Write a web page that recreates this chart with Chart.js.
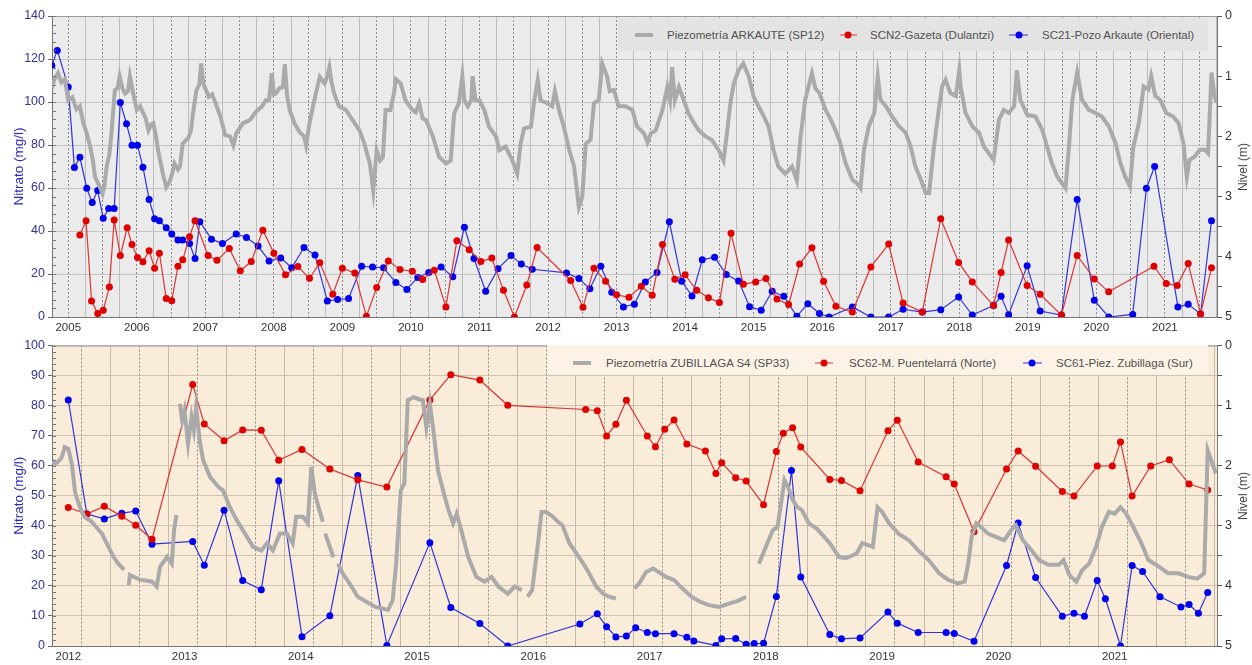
<!DOCTYPE html>
<html>
<head>
<meta charset="utf-8">
<script src="https://cdn.jsdelivr.net/npm/chart.js@4.4.0/dist/chart.umd.min.js"></script>
<style>
  body { margin: 0; background: #fff; font-family: "Liberation Sans", Arial, sans-serif; }
  #wrap { position: relative; width: 1252px; height: 665px; overflow: hidden; }
  canvas { position: absolute; left: 0; }
  .legend { position: absolute; font-size: 11.5px; color: #505050; }
  .legend span { position: absolute; }
  .legend .lt { transform: translateY(-50%); white-space: nowrap; }
  .sw-grey { height: 4px; background: #aaaaaa; transform: translateY(-50%); }
  .sw-line { height: 1px; transform: translateY(-50%); }
  .sw-dot { width: 7px; height: 7px; border-radius: 50%; transform: translate(-50%, -50%); }
  .rtitle { position: absolute; font-size: 12px; color: #444; white-space: nowrap; transform: translate(-50%, -50%) rotate(-90deg); }
</style>
</head>
<body>
<div id="wrap">
  <canvas id="arkaute" width="1252" height="335" style="top:0"></canvas>
  <canvas id="zubillaga" width="1252" height="330" style="top:335px"></canvas>

  <div class="legend" style="left:618px;top:18px;width:590px;height:33px;background:#e3e3e3">
    <span class="sw-grey" style="left:17px;top:17px;width:18px"></span>
    <span class="lt" style="left:49px;top:17px">Piezometría ARKAUTE (SP12)</span>
    <span class="sw-line" style="left:222px;top:17px;width:17px;background:#dd3333"></span>
    <span class="sw-dot" style="left:230px;top:17px;background:#e00000"></span>
    <span class="lt" style="left:252px;top:17px">SCN2-Gazeta (Dulantzi)</span>
    <span class="sw-line" style="left:391px;top:17px;width:19px;background:#3333dd"></span>
    <span class="sw-dot" style="left:401px;top:17px;background:#0000ee"></span>
    <span class="lt" style="left:424px;top:17px">SC21-Pozo Arkaute (Oriental)</span>
  </div>

  <div class="legend" style="left:547px;top:345px;width:661px;height:30px;background:#fcf2e6">
    <span class="sw-grey" style="left:26px;top:18px;width:18px"></span>
    <span class="lt" style="left:59px;top:18px">Piezometría ZUBILLAGA S4 (SP33)</span>
    <span class="sw-line" style="left:268px;top:18px;width:18px;background:#dd3333"></span>
    <span class="sw-dot" style="left:277px;top:18px;background:#e00000"></span>
    <span class="lt" style="left:302px;top:18px">SC62-M. Puentelarrá (Norte)</span>
    <span class="sw-line" style="left:476px;top:18px;width:19px;background:#3333dd"></span>
    <span class="sw-dot" style="left:485px;top:18px;background:#0000ee"></span>
    <span class="lt" style="left:509px;top:18px">SC61-Piez. Zubillaga (Sur)</span>
  </div>

  <div class="rtitle" style="left:1243px;top:167px">Nivel (m)</div>
  <div class="rtitle" style="left:1243px;top:496px">Nivel (m)</div>
</div>

<script>
// ---- Arkaute (top) ----
const arkYears = [2004.76,2004.80,2004.85,2004.90,2004.95,2005.00,2005.06,2005.12,2005.17,2005.22,2005.27,2005.32,2005.36,2005.39,2005.46,2005.50,2005.53,2005.56,2005.60,2005.63,2005.68,2005.72,2005.75,2005.79,2005.83,2005.87,2005.90,2005.95,
  2006.00,2006.05,2006.09,2006.13,2006.17,2006.21,2006.24,2006.28,2006.31,2006.35,2006.38,2006.43,2006.48,2006.52,2006.55,2006.60,2006.63,2006.67,2006.75,2006.79,2006.82,2006.87,2006.91,2006.94,2006.97,
  2007.05,2007.10,2007.15,2007.22,2007.29,2007.36,2007.41,2007.45,2007.55,2007.65,2007.74,2007.83,2007.88,2007.93,2007.97,2008.00,2008.03,2008.08,2008.13,2008.16,2008.19,2008.23,2008.30,2008.37,2008.44,2008.47,2008.52,2008.59,2008.67,2008.74,2008.78,2008.81,2008.84,2008.88,2008.95,
  2009.05,2009.15,2009.25,2009.32,2009.40,2009.45,2009.50,2009.55,2009.59,2009.63,2009.70,2009.75,2009.78,2009.85,2009.92,2010.02,2010.07,2010.12,2010.17,2010.22,2010.32,2010.41,2010.51,2010.58,2010.63,2010.70,2010.75,2010.78,2010.83,2010.88,2010.90,2010.94,
  2011.00,2011.07,2011.14,2011.24,2011.29,2011.38,2011.48,2011.55,2011.60,2011.65,2011.75,2011.80,2011.85,2011.89,2011.99,2012.06,2012.10,2012.16,2012.23,2012.31,2012.38,2012.45,2012.50,2012.55,2012.62,2012.67,2012.74,2012.79,2012.86,2012.90,2012.96,
  2013.03,2013.13,2013.23,2013.30,2013.40,2013.45,2013.50,2013.57,2013.67,2013.74,2013.78,2013.81,2013.85,2013.91,2013.98,2014.05,2014.13,2014.20,2014.30,2014.39,2014.49,2014.56,2014.61,2014.66,2014.71,2014.78,2014.85,2014.93,
  2015.00,2015.07,2015.15,2015.22,2015.29,2015.36,2015.46,2015.56,2015.63,2015.68,2015.75,2015.85,2015.90,2015.96,2016.05,2016.15,2016.25,2016.34,2016.44,2016.51,2016.56,2016.61,2016.68,2016.76,2016.81,2016.85,2016.93,
  2017.02,2017.12,2017.22,2017.29,2017.36,2017.44,2017.51,2017.56,2017.63,2017.70,2017.75,2017.80,2017.87,2017.95,2018.00,2018.02,2018.09,2018.19,2018.29,2018.36,2018.43,2018.50,2018.58,2018.65,2018.72,2018.80,2018.84,2018.89,2018.99,
  2019.11,2019.21,2019.28,2019.35,2019.43,2019.50,2019.55,2019.60,2019.65,2019.72,2019.79,2019.89,2019.99,2020.08,2020.18,2020.28,2020.35,2020.42,2020.49,2020.54,2020.62,2020.69,2020.76,2020.80,2020.86,2020.93,
  2021.02,2021.12,2021.20,2021.27,2021.32,2021.36,2021.44,2021.51,2021.58,2021.63,2021.68,2021.72,2021.75];
const arkLevels = [1.20,1.05,0.95,1.10,1.05,1.40,1.35,1.55,1.50,1.78,1.95,2.17,2.40,2.67,2.84,2.95,2.80,2.50,2.30,1.95,1.23,1.20,1.00,1.20,1.29,1.25,1.00,1.30,
  1.56,1.50,1.60,1.70,1.90,1.80,1.78,2.00,2.23,2.45,2.62,2.84,2.75,2.60,2.45,2.55,2.50,2.12,2.03,1.90,1.62,1.23,1.15,0.79,1.12,
  1.34,1.30,1.45,1.67,1.98,2.00,2.15,1.95,1.78,1.73,1.59,1.50,1.40,1.40,0.95,1.30,1.29,1.20,1.18,0.80,1.30,1.56,1.78,1.92,2.00,2.15,1.78,1.40,1.01,1.12,1.00,0.85,1.10,1.29,1.50,
  1.56,1.73,1.90,2.12,2.45,2.90,2.23,2.40,2.35,1.56,1.56,1.30,1.05,1.12,1.40,1.56,1.60,1.45,1.70,1.73,2.00,2.34,2.45,2.40,1.62,1.45,1.00,1.40,1.50,1.40,1.00,1.40,
  1.40,1.56,1.84,2.00,2.23,2.17,2.40,2.62,2.12,1.87,1.84,1.40,1.06,1.40,1.45,1.50,1.25,1.56,1.84,2.23,2.50,3.17,3.00,2.12,2.06,1.45,1.40,0.79,1.00,1.25,1.23,
  1.50,1.50,1.56,1.84,1.95,2.10,1.95,1.90,1.56,1.18,1.40,0.85,1.40,1.18,1.40,1.62,1.78,1.90,2.00,2.06,2.23,2.40,1.95,1.45,1.12,0.90,0.79,1.01,
  1.34,1.50,1.67,1.84,2.23,2.50,2.62,2.50,2.73,2.06,1.40,0.95,1.20,1.28,1.56,1.78,2.06,2.44,2.72,2.78,2.86,2.22,1.83,1.61,1.00,1.39,1.50,
  1.67,1.83,1.94,2.17,2.50,2.72,2.94,2.94,2.17,1.56,1.17,1.06,1.28,1.33,0.90,1.17,1.61,1.83,1.94,2.17,2.28,2.39,1.72,1.56,1.61,1.50,0.90,1.39,1.64,
  1.67,1.89,2.17,2.44,2.67,2.78,2.86,2.17,1.39,0.94,1.39,1.56,1.61,1.67,1.83,2.11,2.44,2.67,2.83,2.17,1.78,1.17,1.22,1.00,1.33,1.39,
  1.61,1.67,1.78,2.11,2.67,2.39,2.33,2.22,2.22,2.28,0.94,1.30,1.44];

const scn2Years = [2005.17,2005.26,2005.34,2005.43,2005.51,2005.60,2005.67,2005.76,2005.86,2005.93,2006.01,2006.09,2006.18,2006.26,2006.33,2006.43,2006.51,2006.60,2006.67,2006.77,2006.85,
  2007.04,2007.17,2007.35,2007.51,2007.67,2007.84,2008.00,2008.17,2008.35,2008.52,2008.67,2008.86,2009.00,2009.18,2009.35,2009.50,2009.67,2009.84,2010.02,2010.17,2010.34,2010.51,2010.67,2010.85,
  2011.02,2011.18,2011.35,2011.51,2011.69,2011.84,2012.33,2012.51,2012.67,2012.84,2013.00,2013.18,2013.36,2013.52,2013.67,2013.85,2014.00,2014.17,2014.34,2014.50,2014.67,2014.85,
  2015.03,2015.18,2015.34,2015.51,2015.67,2015.85,2016.02,2016.20,2016.44,2016.71,2016.97,2017.18,2017.46,2017.73,2017.99,2018.19,2018.50,2018.61,2018.72,2018.99,
  2019.18,2019.49,2019.72,2019.97,2020.18,2020.84,2021.02,2021.18,2021.34,2021.52,2021.68];
const scn2Values = [38.1,44.8,7.5,1.6,3.1,14.0,45.1,28.6,41.5,33.7,27.7,25.7,30.8,22.7,29.7,8.6,7.6,23.6,26.6,37.3,44.8,
  28.6,26.4,31.9,21.5,25.8,40.4,29.7,19.6,23.5,18.0,25.2,10.6,22.7,20.5,0.3,13.7,26.1,22.1,21.3,17.4,21.8,4.7,35.5,31.3,
  25.8,27.4,12.4,0,14.9,32.3,17.0,4.5,22.7,16.6,10.3,9.2,14.3,10.1,33.7,17.6,19.6,12.4,9.0,6.7,38.9,15.2,
  16.3,17.9,8.4,5.8,24.6,32.2,16.6,5.0,2.3,23.3,33.9,6.5,2.3,45.7,25.4,16.3,5.3,20.7,35.8,14.6,
  10.6,0.9,28.6,17.7,11.7,23.6,15.6,14.6,24.9,1.4,22.9];

const sc21Years = [2004.76,2004.84,2005.00,2005.09,2005.17,2005.27,2005.35,2005.43,2005.51,2005.59,2005.67,2005.76,2005.85,2005.93,2006.01,2006.09,2006.18,2006.26,2006.33,2006.43,2006.51,2006.60,2006.67,2006.77,2006.85,2006.92,
  2007.09,2007.25,2007.45,2007.60,2007.77,2007.93,2008.10,2008.26,2008.44,2008.60,2008.78,2008.93,2009.09,2009.28,2009.44,2009.60,2009.78,2009.94,2010.10,2010.26,2010.44,2010.61,2010.78,2010.92,
  2011.09,2011.27,2011.46,2011.61,2011.77,2012.27,2012.45,2012.61,2012.77,2012.93,2013.10,2013.26,2013.42,2013.59,2013.77,2013.95,2014.10,2014.25,2014.43,2014.60,2014.78,2014.94,
  2015.11,2015.27,2015.44,2015.63,2015.79,2015.96,2016.10,2016.44,2016.71,2016.97,2017.18,2017.46,2017.73,2017.99,2018.19,2018.50,2018.61,2018.72,2018.99,
  2019.18,2019.49,2019.72,2019.97,2020.18,2020.53,2020.73,2020.85,2021.19,2021.34,2021.52,2021.68];
const sc21Values = [117,124,107,69.5,74.3,59.9,53.2,58.8,45.9,50.5,50.5,99.8,89.9,79.9,79.9,69.7,54.7,45.7,44.8,41.5,38.6,35.8,35.8,34.2,27.2,44.3,
  36.2,34.2,38.6,37.0,33.0,26.1,27.5,22.9,32.3,28.8,7.5,8.1,8.6,23.6,23.2,22.9,16.0,12.8,18.4,20.7,23.3,18.7,41.8,27.2,
  12.0,22.4,28.6,24.6,22.2,20.5,17.9,13.1,23.6,11.5,4.7,5.9,16.3,20.7,44.3,16.6,9.8,26.6,27.8,19.8,16.8,4.8,
  3.1,12.0,9.6,0.3,6.2,1.6,0,4.7,0,0,3.6,2.3,3.4,9.3,0.9,5.3,9.6,1.1,23.8,
  2.8,0.9,54.7,7.8,0,1.2,59.9,70.0,4.7,5.9,1.4,44.8];

// ---- Zubillaga (bottom) ----  null = gap in the record
const zubYears = [2011.75,2011.78,2011.83,2011.86,2011.89,2011.92,2011.95,2011.99,2012.03,2012.09,2012.13,2012.18,2012.22,2012.28,2012.32,2012.37,2012.39,
  2012.41,2012.42,2012.51,2012.56,2012.61,2012.65,2012.68,2012.74,2012.78,2012.80,2012.82,2012.835,
  2012.85,2012.87,2012.89,2012.92,2012.95,2012.97,2012.99,2013.02,2013.05,2013.11,2013.18,2013.22,2013.28,2013.34,2013.41,2013.48,2013.55,2013.60,2013.65,2013.71,2013.77,2013.82,2013.85,2013.91,2013.95,2013.98,2014.01,2014.05,2014.08,2014.09,
  2014.10,2014.17,2014.19,
  2014.21,2014.25,2014.31,2014.38,2014.45,2014.53,2014.58,2014.64,2014.68,2014.71,2014.73,2014.75,2014.78,2014.81,2014.86,2014.90,2014.94,2014.97,2015.00,2015.03,2015.07,2015.12,2015.16,2015.20,2015.23,2015.27,2015.33,2015.40,2015.47,2015.53,2015.59,2015.67,2015.73,2015.79,2015.815,
  2015.84,2015.88,2015.93,2015.96,2016.00,2016.06,2016.10,2016.14,2016.20,2016.26,2016.32,2016.37,2016.43,2016.49,2016.54,2016.60,2016.68,
  2016.76,2016.80,2016.86,2016.92,2016.97,2017.03,2017.10,2017.17,2017.25,2017.32,2017.40,2017.49,2017.58,2017.66,2017.72,2017.78,
  2017.83,2017.89,2017.95,2017.99,2018.02,2018.05,2018.08,2018.12,2018.16,2018.20,2018.26,2018.33,2018.44,2018.52,2018.58,2018.67,2018.72,2018.81,2018.85,2018.89,2018.95,
  2019.03,2019.12,2019.20,2019.29,2019.38,2019.46,2019.54,2019.60,2019.63,2019.66,2019.70,2019.74,2019.80,2019.86,2019.94,2020.00,2020.04,2020.10,2020.15,2020.24,2020.32,2020.41,2020.45,2020.50,2020.56,2020.61,2020.67,2020.73,2020.78,2020.84,2020.89,2020.94,2020.99,
  2021.05,2021.12,2021.18,2021.27,2021.35,2021.44,2021.52,2021.60,2021.66,2021.69,2021.72,2021.76];
const zubLevels = [1.91,1.97,1.88,1.69,1.72,1.97,2.46,2.69,2.85,2.93,3.02,3.13,3.29,3.52,3.63,3.73,null,
  3.99,3.82,3.90,3.91,3.93,4.01,3.68,3.52,3.63,3.07,2.82,null,
  0.97,1.25,1.08,1.63,1.19,1.41,1.02,1.58,1.91,2.19,2.35,2.41,2.69,2.91,3.13,3.35,3.41,3.29,3.41,3.13,3.13,3.29,2.85,2.85,2.96,2.02,2.46,2.74,2.93,null,
  3.13,3.52,null,
  3.63,3.79,3.96,4.18,4.26,4.35,4.37,4.40,4.24,3.63,3.02,2.41,2.30,0.91,0.86,0.89,0.91,1.36,0.97,1.41,2.08,2.46,2.74,2.96,2.80,3.07,3.52,3.85,3.93,3.85,4.01,4.13,4.01,4.07,null,
  4.18,4.07,3.29,2.77,2.77,2.85,2.93,2.99,3.29,3.46,3.63,3.79,4.01,4.13,4.18,4.21,null,
  4.04,3.96,3.77,3.71,3.77,3.85,3.90,4.04,4.18,4.26,4.32,4.35,4.29,4.24,4.18,null,
  3.63,3.35,3.07,3.02,2.63,2.24,2.35,2.57,2.69,2.74,2.96,3.05,3.29,3.52,3.54,3.46,3.29,3.35,2.69,2.77,2.96,
  3.13,3.24,3.41,3.57,3.79,3.90,3.96,3.93,3.63,3.18,2.96,3.02,3.13,3.18,3.24,3.07,2.99,3.24,3.35,3.57,3.65,3.65,3.57,3.82,3.93,3.74,3.63,3.35,3.02,2.77,2.80,2.69,2.80,
  3.02,3.29,3.57,3.68,3.79,3.79,3.85,3.88,3.79,1.74,1.91,2.13];

const sc62Years = [2011.89,2012.05,2012.20,2012.35,2012.47,2012.61,2012.96,2013.06,2013.23,2013.39,2013.55,2013.70,2013.90,2014.14,2014.38,2014.63,
  2015.00,2015.18,2015.43,2015.67,2016.34,2016.44,2016.52,2016.60,2016.69,2016.87,2016.94,2017.02,2017.10,2017.21,2017.37,2017.46,2017.51,2017.63,2017.72,2017.87,2017.98,
  2018.04,2018.12,2018.19,2018.44,2018.54,2018.70,2018.94,2019.02,2019.20,2019.44,2019.51,2019.68,2019.96,2020.06,2020.21,2020.44,2020.54,2020.74,2020.87,2020.94,
  2021.04,2021.20,2021.36,2021.53,2021.69];
const sc62Values = [46.1,43.9,46.5,43.2,40.2,35.5,87.0,73.9,68.3,71.9,71.8,61.8,65.4,58.9,55.3,52.9,
  81.9,90.3,88.5,80.1,78.7,78.3,69.9,73.8,81.8,69.9,66.3,72.1,75.2,67.2,64.9,57.4,61.0,56.0,54.9,47.0,64.7,
  70.8,72.6,66.2,55.4,55.1,51.7,71.6,75.1,61.2,56.3,53.9,38.0,58.9,64.9,59.8,51.4,49.9,59.9,59.9,67.9,
  49.9,59.9,62.0,53.9,51.9];

const sc61Years = [2011.89,2012.05,2012.20,2012.35,2012.47,2012.61,2012.96,2013.06,2013.23,2013.39,2013.55,2013.70,2013.90,2014.14,2014.38,2014.63,
  2015.00,2015.18,2015.43,2015.67,2016.29,2016.44,2016.52,2016.60,2016.69,2016.77,2016.87,2016.94,2017.10,2017.21,2017.27,2017.46,2017.51,2017.63,2017.72,2017.79,2017.87,2017.98,
  2018.11,2018.19,2018.44,2018.54,2018.70,2018.94,2019.02,2019.20,2019.44,2019.51,2019.68,2019.96,2020.06,2020.21,2020.44,2020.54,2020.63,2020.74,2020.81,2020.94,
  2021.04,2021.13,2021.28,2021.46,2021.53,2021.61,2021.69];
const sc61Values = [81.9,43.9,42.3,44.2,44.9,33.9,34.8,26.9,45.2,21.8,18.7,55.0,3.1,10.1,56.7,0.2,
  34.4,12.8,7.5,0,7.3,10.7,6.4,3.0,3.3,6.1,4.5,4.1,4.1,2.9,1.7,0.2,2.4,2.5,0.6,0.8,0.9,16.5,
  58.4,23.0,3.8,2.4,2.7,11.3,7.6,4.5,4.5,4.2,1.6,26.8,40.9,22.8,9.9,10.9,9.9,21.8,15.7,0,
  26.8,24.8,16.4,13.0,13.8,10.9,17.8];

Chart.defaults.font.family = '"Liberation Sans", Arial, sans-serif';
Chart.defaults.font.size = 11;

const pts = (xs, ys) => xs.map((x, i) => ({ x: x, y: ys[i] }));
const isWhole = v => Math.abs(v - Math.round(v)) < 1e-6;
const isHalf = v => Math.abs(v * 2 - Math.round(v * 2)) < 1e-6;

// plot background, top frame line and small inner ticks on the left axis
const plotFrame = {
  id: 'plotFrame',
  beforeDraw(chart, args, opts) {
    const { ctx, chartArea: a } = chart;
    ctx.save();
    ctx.fillStyle = opts.bg;
    ctx.fillRect(a.left, a.top, a.width, a.height);
    ctx.restore();
  },
  afterDraw(chart, args, opts) {
    const { ctx, chartArea: a } = chart;
    const y = chart.scales.y;
    ctx.save();
    ctx.strokeStyle = '#9a9a9a';
    ctx.lineWidth = 1;
    ctx.beginPath();
    ctx.moveTo(a.left, a.top + 0.5);
    ctx.lineTo(a.right, a.top + 0.5);
    ctx.stroke();
    ctx.strokeStyle = '#777';
    ctx.beginPath();
    for (let v = 0; v <= y.max; v += opts.minor) {
      const py = Math.round(y.getPixelForValue(v)) + 0.5;
      ctx.moveTo(a.left, py);
      ctx.lineTo(a.left + 4, py);
    }
    ctx.stroke();
    ctx.restore();
  }
};

function buildChart(id, cfg) {
  const ctx = document.getElementById(id).getContext('2d');
  return new Chart(ctx, {
    type: 'line',
    data: {
      datasets: [{
        label: cfg.levelLabel,
        data: pts(cfg.levelYears, cfg.levels),
        yAxisID: 'y2',
        borderColor: '#aaaaaa',
        borderWidth: 4,
        pointRadius: 0,
        spanGaps: false,
        tension: 0
      }, {
        label: cfg.redLabel,
        data: pts(cfg.redYears, cfg.redValues),
        yAxisID: 'y',
        borderColor: '#dd3333',
        borderWidth: 1.2,
        pointRadius: 3.5,
        pointBorderWidth: 0,
        pointBackgroundColor: '#e00000'
      }, {
        label: cfg.blueLabel,
        data: pts(cfg.blueYears, cfg.blueValues),
        yAxisID: 'y',
        borderColor: '#3333dd',
        borderWidth: 1.2,
        pointRadius: 3.5,
        pointBorderWidth: 0,
        pointBackgroundColor: '#0000ee'
      }]
    },
    options: {
      responsive: false,
      animation: false,
      devicePixelRatio: 1,
      layout: { padding: { top: cfg.padTop, left: 0, right: 0, bottom: 0 } },
      plugins: {
        legend: { display: false },
        tooltip: { enabled: false },
        plotFrame: { bg: cfg.bg, minor: cfg.yStep / 5 }
      },
      scales: {
        x: {
          type: 'linear',
          min: cfg.xMin,
          max: cfg.xMax,
          afterFit: s => { s.height = cfg.xHeight; },
          ticks: {
            stepSize: 0.25,
            autoSkip: false,
            maxRotation: 0,
            minRotation: 0,
            includeBounds: false,
            align: cfg.xAlign,
            padding: 4,
            color: '#333',
            font: { size: 11.5 },
            callback: v => isWhole(v) ? String(Math.round(v)) : ''
          },
          grid: {
            drawTicks: false,
            lineWidth: 1,
            color: c => (c.tick && isHalf(c.tick.value)) ? cfg.dashColor : cfg.vGrid
          },
          border: {
            color: '#777',
            dash: c => (c.tick && isHalf(c.tick.value)) ? [2, 2] : []
          }
        },
        y: {
          position: 'left',
          min: 0,
          max: cfg.yMax,
          afterFit: s => { s.width = 52; },
          ticks: { stepSize: cfg.yStep, color: '#333399', padding: 3, font: { size: 12.5 } },
          grid: { color: cfg.hGrid, tickLength: 4, tickColor: '#666' },
          border: { color: '#777' },
          title: {
            display: true,
            text: 'Nitrato (mg/l)',
            color: '#2828c0',
            font: { size: 13.5 },
            padding: { top: 11, bottom: 0 }
          }
        },
        y2: {
          position: 'right',
          reverse: true,
          min: 0,
          max: 5,
          afterFit: s => { s.width = 35; },
          ticks: {
            stepSize: 0.5,
            color: '#333',
            padding: 3,
            font: { size: 12.5 },
            callback: v => isWhole(v) ? String(Math.round(v)) : ''
          },
          grid: { drawOnChartArea: false, tickLength: 5, tickColor: '#555' },
          border: { color: '#777' }
        }
      }
    },
    plugins: [plotFrame]
  });
}

document.addEventListener('DOMContentLoaded', () => {
  buildChart('arkaute', {
    levelLabel: 'Piezometría ARKAUTE (SP12)', levelYears: arkYears, levels: arkLevels,
    redLabel: 'SCN2-Gazeta (Dulantzi)', redYears: scn2Years, redValues: scn2Values,
    blueLabel: 'SC21-Pozo Arkaute (Oriental)', blueYears: sc21Years, blueValues: sc21Values,
    xMin: 2004.763, xMax: 2021.76, xAlign: 'center', xHeight: 18, padTop: 16,
    yMax: 140, yStep: 20,
    bg: '#ebebeb', hGrid: '#c4c4c4', vGrid: '#bdbdbd', dashColor: '#8c8c8c'
  });
  buildChart('zubillaga', {
    levelLabel: 'Piezometría ZUBILLAGA S4 (SP33)', levelYears: zubYears, levels: zubLevels,
    redLabel: 'SC62-M. Puentelarrá (Norte)', redYears: sc62Years, redValues: sc62Values,
    blueLabel: 'SC61-Piez. Zubillaga (Sur)', blueYears: sc61Years, blueValues: sc61Values,
    xMin: 2011.75, xMax: 2021.77, xAlign: 'end', xHeight: 19, padTop: 10,
    yMax: 100, yStep: 10,
    bg: '#f9ecd9', hGrid: '#cfc3b3', vGrid: '#c4b9aa', dashColor: '#8c8780'
  });
});
</script>
</body>
</html>
